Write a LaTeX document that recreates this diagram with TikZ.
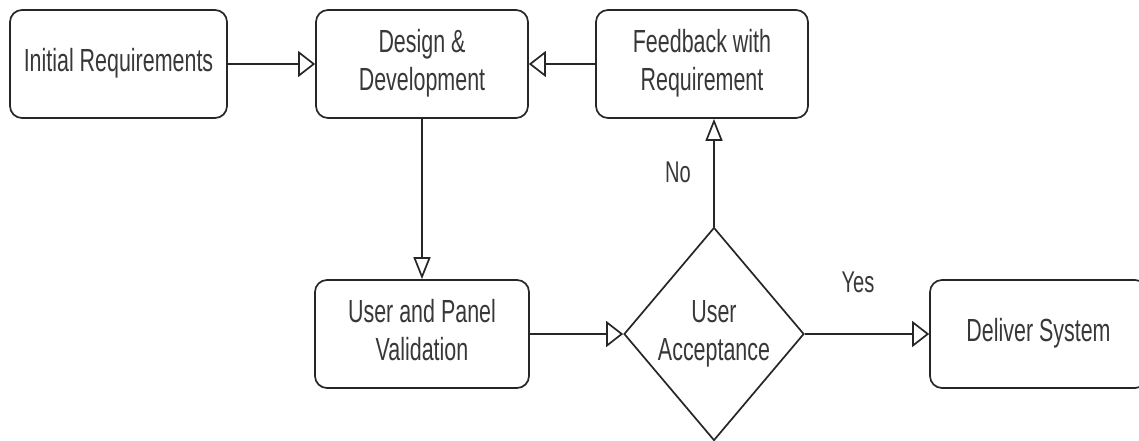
\documentclass[tikz,border=0pt]{standalone}
\usepackage{fontspec}
\setmainfont{Liberation Sans}
\usepackage{graphicx}
\usetikzlibrary{shapes.geometric,arrows.meta}
% condensed, centred multi-line label text
\newcommand{\cond}[1]{\scalebox{0.67}[1]{\begin{tabular}{@{}c@{}}#1\end{tabular}}}
\begin{document}
\begin{tikzpicture}[x=1pt,y=-1pt,
  every node/.style={font=\fontsize{32}{38}\selectfont, text=black!78},
  stepbox/.style={draw=black!85, line width=1.7pt, rounded corners=12pt, fill=white,
    minimum width=212pt, minimum height=108pt, inner sep=0pt},
  decision/.style={draw=black!85, line width=1.7pt, diamond, shape aspect=0.845,
    minimum width=180pt, minimum height=213pt, inner sep=0pt, fill=white},
  link/.style={draw=black!85, line width=1.7pt},
  harrow/.style={link, -{Triangle[open, length=17pt, width=26pt]}},
  varrow/.style={link, -{Triangle[open, length=22pt, width=17pt]}},
  tag/.style={font=\fontsize{30}{36}\selectfont}
]
\useasboundingbox (0,0) rectangle (1139,441);

% process steps
\node[stepbox, minimum width=217pt] (init) at (118.5,64) {\cond{Initial Requirements}};
\node[stepbox] (dev) at (422,64) {\cond{Design \&\\Development}};
\node[stepbox] (fb) at (702,64) {\cond{Feedback with\\Requirement}};
\node[stepbox, minimum width=214pt] (upv) at (422,334) {\cond{User and Panel\\Validation}};
\node[decision] (ua) at (714,334) {\cond{User\\Acceptance}};
\node[stepbox, minimum width=217pt] (ds) at (1038.5,334) {\cond{Deliver System}};

% connectors
\draw[harrow] (init) -- (dev);
\draw[harrow] (fb) -- (dev);
\draw[varrow] (dev) -- (upv);
\draw[harrow] (upv) -- (ua);
\draw[varrow] (ua.north) -- (ua.north |- fb.south);
\draw[harrow] (ua) -- (ds);

% decision outcomes
\node[tag] (no) at (678,172) {\scalebox{0.67}[1]{No}};
\node[tag] (yes) at (858,282) {\scalebox{0.67}[1]{Yes}};
\end{tikzpicture}
\end{document}
